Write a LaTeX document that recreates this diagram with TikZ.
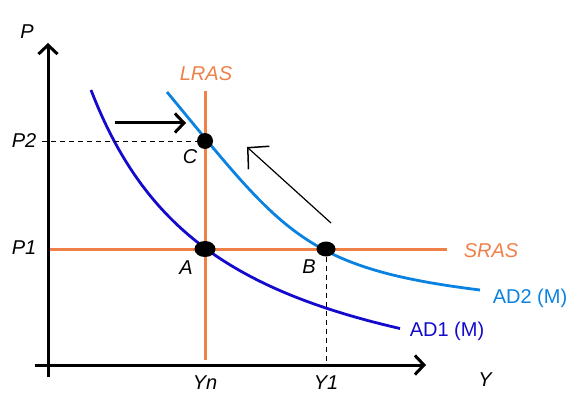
\documentclass[tikz,border=0pt]{standalone}
\usepackage{fontspec}
\setmainfont{Liberation Sans}
\usetikzlibrary{arrows.meta,shapes.geometric}
\definecolor{orng}{RGB}{238,128,72}
\definecolor{adone}{RGB}{20,10,205}
\definecolor{adtwo}{RGB}{10,130,225}
\tikzset{
  axis/.style={line width=3pt, -{Straight Barb[length=9pt,width=19pt,line width=3pt]}},
  curveline/.style={line width=3pt, orng},
  adline/.style={line width=2.8pt},
  dashline/.style={line width=0.9pt, dash pattern=on 5pt off 4pt},
  dot/.style={ellipse, fill=black, inner sep=0pt},
  lab/.style={font=\fontsize{20}{22}\selectfont\itshape, inner sep=0pt},
  adlab/.style={font=\fontsize{20}{22}\selectfont, inner sep=0pt},
}
\begin{document}
\begin{tikzpicture}[x=1pt,y=-1pt]
\useasboundingbox (0,0) rectangle (578,398);
% coordinates
\coordinate (yb) at (48,377);
\coordinate (yt) at (48,43);
\coordinate (xl) at (35,365);
\coordinate (xr) at (426,365);
\coordinate (lrt) at (205,91);
\coordinate (lrb) at (205,360);
\coordinate (srl) at (48,249);
\coordinate (srr) at (447,249);
\coordinate (p2l) at (42,141);
\coordinate (y1b) at (326,365);
\coordinate (h1) at (115,123);
\coordinate (h2) at (186,123);
\coordinate (d1) at (331,223);
\coordinate (d2) at (247,147);
\coordinate (ad2s) at (167,92);
\coordinate (ad2e) at (480,290);
% AD curves
\draw[adline, adone] plot[domain=91:400, samples=80] (\x, {429.6-444.82/((\x+40)/100)});
\draw[adline, adtwo] (ad2s) .. controls (282,231) and (302,268) .. (ad2e);
% LRAS, SRAS
\draw[curveline] (lrt) -- (lrb);
\draw[curveline] (srl) -- (srr);
% axes
\draw[axis] (yb) -- (yt);
\draw[axis] (xl) -- (xr);
% dots
\node[dot, minimum width=21pt, minimum height=16pt] (A) at (205,249) {};
\node[dot, minimum width=19pt, minimum height=15pt] (B) at (326,249) {};
\node[dot, minimum width=16pt, minimum height=16pt] (C) at (205,141) {};
% dashed
\draw[dashline] (p2l) -- (C.west);
\draw[dashline] (B.south) -- (y1b);
% arrows
\draw[line width=3pt, -{Straight Barb[length=9pt,width=19pt,line width=3pt]}] (h1) -- (h2);
\draw[line width=1.2pt, -{Straight Barb[length=15pt,width=31pt,line width=1.5pt]}] (d1) -- (d2);
% labels
\node[lab] (lP) at (27,32) {P};
\node[lab] (lP2) at (24,141) {P2};
\node[lab] (lP1) at (24,248) {P1};
\node[lab, text=orng] (lLRAS) at (206,74) {LRAS};
\node[lab, text=orng] (lSRAS) at (491,251) {SRAS};
\node[lab] (lA) at (186,268) {A};
\node[lab] (lB) at (309,267) {B};
\node[lab] (lC) at (190,157) {C};
\node[lab] (lYn) at (205,383) {Yn};
\node[lab] (lY1) at (326,383) {Y1};
\node[lab] (lY) at (485,380) {Y};
\node[adlab, text=adtwo] (lAD2) at (530,298) {AD2 (M)};
\node[adlab, text=adone] (lAD1) at (447,331) {AD1 (M)};
\end{tikzpicture}
\end{document}
